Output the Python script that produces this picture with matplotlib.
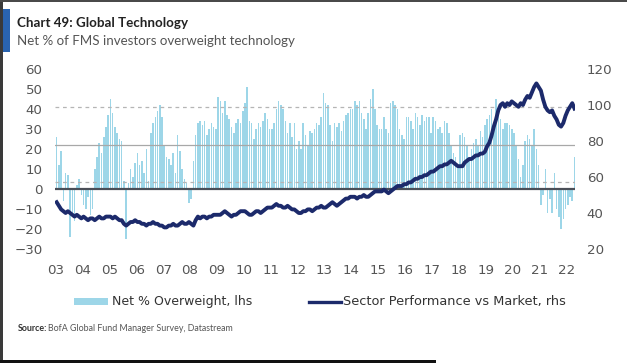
import numpy as np
import matplotlib
matplotlib.use('Agg')
import matplotlib.pyplot as plt
from matplotlib.patches import Rectangle
from matplotlib.lines import Line2D

# Net % overweight technology (lhs), monthly Jan 2003 - Apr 2022
net_ow = {
    2003: [26, 12, 19, -6, 8, 7, -24, -12, -16, 2, 5, -3],
    2004: [-8, -10, -4, -13, -10, 10, 16, 23, 18, 26, 31, 37],
    2005: [45, 38, 31, 28, 25, 24, 4, -25, 3, 10, 6, 13],
    2006: [18, 12, 14, 8, 20, 4, 28, 33, 36, 39, 42, 36],
    2007: [22, 16, 15, 12, 18, 8, 27, 19, 10, 5, 3, -7],
    2008: [-5, 14, 27, 33, 34, 32, 34, 27, 30, 33, 31, 30],
    2009: [46, 44, 38, 44, 37, 35, 31, 28, 33, 35, 33, 39],
    2010: [43, 51, 34, 33, 25, 30, 33, 31, 34, 38, 35, 30],
    2011: [30, 33, 40, 44, 42, 40, 34, 28, 33, 26, 33, 20],
    2012: [24, 20, 33, 27, 22, 29, 28, 30, 33, 32, 36, 48],
    2013: [43, 42, 32, 24, 33, 31, 33, 29, 34, 37, 38, 40],
    2014: [40, 44, 42, 44, 38, 35, 30, 38, 45, 50, 40, 32],
    2015: [30, 30, 36, 30, 28, 43, 44, 42, 40, 30, 27, 25],
    2016: [36, 36, 34, 30, 38, 36, 32, 37, 34, 36, 36, 28],
    2017: [36, 34, 30, 31, 28, 34, 33, 28, 22, 18, 16, 12],
    2018: [27, 28, 26, 22, 16, 20, 23, 25, 22, 29, 26, 32],
    2019: [35, 37, 40, 30, 45, 38, 35, 30, 33, 33, 32, 30],
    2020: [28, 22, 15, 6, 12, 24, 27, 25, 22, 30, 20, 12],
    2021: [-8, -3, 10, -12, -5, -12, 8, -10, -14, -20, -15, -10],
    2022: [-8, -4, -6, 16],
}

# Sector performance vs market (rhs)
perf = {
    2003: [46, 44, 42, 41, 40, 41, 40, 39, 38, 39, 38, 37],
    2004: [38, 37, 36, 37, 37, 36, 37, 38, 37, 37, 38, 38],
    2005: [38, 37, 38, 37, 36, 36, 34, 33, 34, 35, 35, 36],
    2006: [35, 35, 34, 34, 33, 34, 34, 35, 34, 34, 33, 33],
    2007: [32, 32, 33, 33, 34, 33, 33, 34, 35, 34, 34, 35],
    2008: [34, 33, 36, 38, 37, 38, 38, 37, 38, 38, 39, 39],
    2009: [39, 39, 40, 41, 40, 39, 38, 39, 39, 40, 41, 41],
    2010: [41, 40, 39, 39, 40, 41, 41, 40, 41, 42, 43, 43],
    2011: [43, 44, 45, 44, 44, 43, 43, 44, 43, 42, 42, 41],
    2012: [40, 40, 41, 41, 42, 42, 41, 42, 43, 43, 44, 43],
    2013: [43, 44, 45, 46, 45, 44, 45, 46, 47, 48, 48, 49],
    2014: [49, 49, 48, 49, 49, 50, 49, 49, 50, 51, 52, 52],
    2015: [52, 52, 53, 52, 51, 52, 53, 54, 55, 55, 55, 56],
    2016: [56, 57, 57, 58, 59, 59, 60, 60, 61, 61, 62, 63],
    2017: [63, 64, 65, 66, 66, 67, 67, 68, 69, 68, 67, 66],
    2018: [66, 66, 68, 69, 70, 70, 71, 72, 72, 73, 73, 74],
    2019: [77, 79, 83, 88, 92, 97, 100, 101, 99, 101, 100, 102],
    2020: [101, 100, 99, 101, 100, 103, 105, 104, 107, 110, 112, 110],
    2021: [108, 103, 99, 97, 96, 97, 94, 92, 89, 88, 90, 94],
    2022: [97, 99, 101, 98],
}

ref_levels = [41, 22, 3.5]   # dashed / solid / dashed guide lines (lhs)
year_labels = ['%02d' % (y % 100) for y in range(2003, 2023)]

# build x (mid-month) and y
t, bars, line = [], [], []
for yr in sorted(net_ow):
    for m, v in enumerate(net_ow[yr]):
        t.append(yr + (m + 0.5) / 12)
        bars.append(v)
        line.append(perf[yr][m])
t = np.array(t)

W, H = 627, 363
fig = plt.figure(figsize=(W / 100, H / 100), dpi=100)
fx = lambda px: px / W
fy = lambda py: 1 - py / H

narrow = 'Lato'

ax = fig.add_axes([fx(55), fy(249), fx(520), 180 / H])
ax2 = ax.twinx()
ax.set_zorder(ax2.get_zorder() - 1)
ax2.patch.set_visible(False)

ax.bar(t, bars, width=0.058, color='#9dd6e8', linewidth=0, zorder=2)
for lvl, ls, c in zip(ref_levels, [(0, (3, 3)), '-', (0, (3, 3))], ['#b5b5b5', '#a8a8a8', '#b5b5b5']):
    ax.axhline(lvl, color=c, lw=0.9, ls=ls, zorder=3)
ax.axhline(0, color='#4a4f58', lw=1.6, zorder=4)

ax2.plot(t, line, color='#1c2a6b', lw=2.8, solid_joinstyle='round')

ax.set_xlim(2002.98, 2022.31)
ax.set_ylim(-30, 60)
ax2.set_ylim(20, 120)
ax.set_yticks(range(-30, 61, 10))
ax2.set_yticks(range(20, 121, 20))
ax.set_xticks(range(2003, 2023))
ax.set_xticklabels(year_labels)

for a in (ax, ax2):
    for s in a.spines.values():
        s.set_visible(False)
    a.tick_params(length=0, colors='#555555', labelsize=9.6)
ax.tick_params(axis='x', pad=11)
ax.tick_params(axis='y', pad=9)
ax2.tick_params(axis='y', pad=8.5)

# titles
fig.text(fx(17), fy(27), 'Chart 49: Global Technology', family=narrow, weight='bold',
         fontsize=9.6, color='#222222', va='baseline')
fig.text(fx(17), fy(45), 'Net % of FMS investors overweight technology', family=narrow,
         fontsize=9.6, color='#555555', va='baseline')

# legend
fig.patches.append(Rectangle((fx(74), fy(305)), fx(34), 7 / H, transform=fig.transFigure,
                             facecolor='#9dd6e8', edgecolor='none'))
fig.text(fx(112), fy(302), 'Net % Overweight, lhs', fontsize=9, color='#333333', va='center')
fig.lines.append(Line2D([fx(309), fx(341)], [fy(302), fy(302)], transform=fig.transFigure,
                        color='#1c2a6b', lw=2.4))
fig.text(fx(343), fy(302), 'Sector Performance vs Market, rhs', fontsize=9.3, color='#333333', va='center')

# source
fig.text(fx(18), fy(331), 'Source:', family=narrow, weight='bold', fontsize=6.4,
         color='#333333', va='baseline')
fig.text(fx(48), fy(331), 'BofA Global Fund Manager Survey, Datastream', family=narrow,
         fontsize=6.4, color='#555555', va='baseline')

# frame bits of the original screenshot
fig.patches.append(Rectangle((fx(3), fy(52)), fx(7), 43 / H, transform=fig.transFigure,
                             facecolor='#2a64b0', edgecolor='none'))
fig.patches.append(Rectangle((0, 0), fx(3), 1, transform=fig.transFigure,
                             facecolor='#3a3a3a', edgecolor='none'))
fig.patches.append(Rectangle((0, fy(2)), 1, 2 / H, transform=fig.transFigure,
                             facecolor='#4a4a4a', edgecolor='none'))
fig.patches.append(Rectangle((0, 0), fx(436), 3 / H, transform=fig.transFigure,
                             facecolor='#111111', edgecolor='none'))

fig.savefig('out.png', dpi=100)
